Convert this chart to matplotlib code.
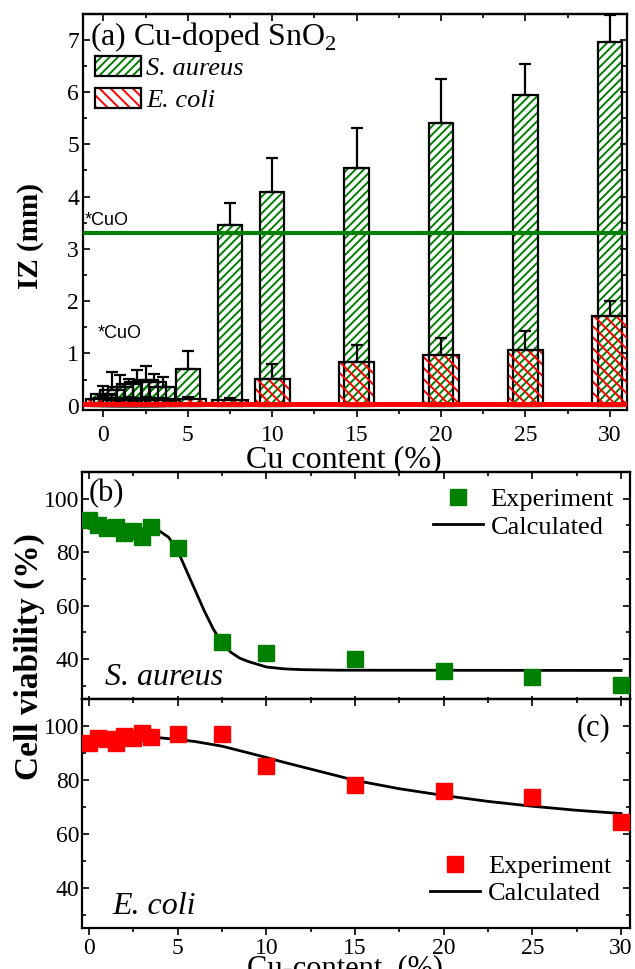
import numpy as np
import matplotlib
matplotlib.use("Agg")
import matplotlib.pyplot as plt
from matplotlib.patches import Patch
from matplotlib.legend_handler import HandlerTuple
from matplotlib.ticker import MultipleLocator

plt.rcParams["font.family"] = ["Liberation Serif", "DejaVu Serif"]
plt.rcParams["mathtext.fontset"] = "custom"
plt.rcParams["mathtext.rm"] = "Liberation Serif"
plt.rcParams["hatch.linewidth"] = 1.4
plt.rcParams["axes.linewidth"] = 1.6

GREEN = "#008000"
RED = "#ff0000"

# --- (a) inhibition zone data ---
cu_content = [0, 0.5, 1, 1.5, 2, 2.5, 3, 3.5, 5, 7.5, 10, 15, 20, 25, 30]
iz_saureus = [0.22, 0.30, 0.35, 0.42, 0.45, 0.50, 0.45, 0.35, 0.70, 3.45, 4.08, 4.54, 5.40, 5.95, 6.96]
iz_saureus_err = [0.16, 0.35, 0.23, 0.10, 0.23, 0.25, 0.15, 0.20, 0.35, 0.42, 0.65, 0.77, 0.84, 0.59, 0.51]
iz_ecoli = [0.12, 0.15, 0.10, 0.12, 0.10, 0.12, 0.10, 0.10, 0.12, 0.10, 0.52, 0.84, 0.97, 1.06, 1.71]
iz_ecoli_err = [0.06, 0.05, 0.05, 0.05, 0.05, 0.05, 0.05, 0.05, 0.05, 0.05, 0.27, 0.33, 0.33, 0.36, 0.29]
cuo_saureus = 3.30
cuo_ecoli = 0.03

# --- (b), (c) cell viability ---
viab_x = [0, 0.5, 1, 1.5, 2, 2.5, 3, 3.5, 5, 7.5, 10, 15, 20, 25, 30]
viab_saureus = [92, 90, 89, 89.5, 87, 88, 85.5, 89.5, 81.4, 46.5, 42.4, 39.9, 35.6, 33.4, 30.3]
viab_ecoli = [93.5, 95.4, 95.0, 93.8, 96.3, 95.7, 97.3, 95.8, 96.9, 96.9, 85.0, 78.0, 75.8, 73.5, 64.2]

calc_b_x = [0, 1, 2, 3, 3.5, 4, 4.5, 5, 5.5, 6, 6.5, 7, 7.5, 8, 8.5, 9, 10, 11, 12, 14, 30]
calc_b_y = [89, 89, 88.9, 88.7, 88.4, 87.8, 85.5, 80.5, 73.0, 65.5, 58.0, 51.3, 46.0, 42.5,
            40.3, 39.0, 37.0, 36.3, 36.0, 35.8, 35.7]
calc_c_x = [0, 2, 4, 5, 6, 7.5, 9, 10, 11, 12.5, 14, 15, 17.5, 20, 22.5, 25, 27.5, 30]
calc_c_y = [96, 96, 95.6, 95, 94.2, 92.5, 90, 88.3, 86.5, 84, 81.5, 79.8, 76.7, 74.2, 72,
            70.2, 68.7, 67.5]

fig = plt.figure(figsize=(6.35, 9.69), dpi=100)
ax_a = fig.add_axes([0.131, 0.577, 0.856, 0.409])
ax_b = fig.add_axes([0.129, 0.2786, 0.863, 0.2343])
ax_c = fig.add_axes([0.129, 0.0423, 0.863, 0.2363])


def style_ticks(ax, xdir):
    ax.tick_params(which="both", direction="in", right=True, width=1.2, labelsize=17)
    ax.tick_params(axis="x", which="both", direction=xdir, top=False)
    ax.tick_params(which="major", length=5)
    ax.tick_params(which="minor", length=3)
    top = ax.secondary_xaxis("top")
    top.xaxis.set_major_locator(MultipleLocator(5))
    top.xaxis.set_minor_locator(MultipleLocator(2.5))
    top.tick_params(which="both", direction="in", labeltop=False, width=1.2)
    top.tick_params(which="major", length=5)
    top.tick_params(which="minor", length=3)


# ---------------- panel (a) ----------------
w_sa, w_ec = 1.45, 2.1
ax_a.bar(cu_content, iz_saureus, width=w_sa, color="none", edgecolor=GREEN, hatch="////", lw=0, zorder=2)
ax_a.bar(cu_content, iz_saureus, width=w_sa, color="none", edgecolor="black", lw=1.6, zorder=3)
ax_a.errorbar(cu_content, iz_saureus, yerr=[np.zeros(len(cu_content)), iz_saureus_err], fmt="none",
              ecolor="black", elinewidth=1.6, capsize=4, capthick=1.6, zorder=3)
ax_a.bar(cu_content, iz_ecoli, width=w_ec, color="none", edgecolor=RED, hatch="\\\\\\", lw=0, zorder=4)
ax_a.bar(cu_content, iz_ecoli, width=w_ec, color="none", edgecolor="black", lw=1.6, zorder=5)
ax_a.errorbar(cu_content, iz_ecoli, yerr=[np.zeros(len(cu_content)), iz_ecoli_err], fmt="none",
              ecolor="black", elinewidth=1.6, capsize=4, capthick=1.6, zorder=5)
ax_a.axhline(cuo_saureus, color=GREEN, lw=3, zorder=6)
ax_a.axhline(cuo_ecoli, color=RED, lw=3.6, zorder=6)
ax_a.text(-1.1, cuo_saureus + 0.08, "*CuO", family="Liberation Sans", fontsize=13, va="bottom")
ax_a.text(-0.35, 1.22, "*CuO", family="Liberation Sans", fontsize=13, va="bottom")

ax_a.set_xlim(-1.2, 31)
ax_a.set_ylim(-0.08, 7.5)
ax_a.xaxis.set_major_locator(MultipleLocator(5))
ax_a.xaxis.set_minor_locator(MultipleLocator(2.5))
ax_a.yaxis.set_major_locator(MultipleLocator(1))
ax_a.yaxis.set_minor_locator(MultipleLocator(0.5))
style_ticks(ax_a, "out")
ax_a.tick_params(axis="x", pad=6)
ax_a.tick_params(axis="y", pad=3)
ax_a.set_ylabel("IZ (mm)", fontsize=21, fontweight="bold")
ax_a.yaxis.set_label_coords(-0.072, 0.44)
ax_a.set_xlabel("Cu content (%)", fontsize=23)
ax_a.xaxis.set_label_coords(0.48, -0.09)

ax_a.text(0.012, 0.985, r"(a) Cu-doped SnO$_\mathregular{2}$", transform=ax_a.transAxes,
          fontsize=23, va="top", ha="left")
h_sa = (Patch(facecolor="none", edgecolor=GREEN, hatch="////", lw=0),
        Patch(facecolor="none", edgecolor="black", lw=1.6))
h_ec = (Patch(facecolor="none", edgecolor=RED, hatch="\\\\\\", lw=0),
        Patch(facecolor="none", edgecolor="black", lw=1.6))
ax_a.legend([h_sa, h_ec], ["S. aureus", "E. coli"], handler_map={tuple: HandlerTuple(ndivide=1)},
            loc="upper left", bbox_to_anchor=(0.021, 0.893), frameon=False,
            prop={"style": "italic", "size": 19}, handlelength=1.75, handleheight=0.8,
            handletextpad=0.2, labelspacing=0.3, borderaxespad=0, borderpad=0)

# ---------------- panel (b) ----------------
ax_b.plot(viab_x, viab_saureus, "s", color=GREEN, ms=11, label="Experiment", zorder=3)
ax_b.plot(calc_b_x, calc_b_y, "-", color="black", lw=2, label="Calculated", zorder=2)
ax_b.set_xlim(-0.4, 30.5)
ax_b.set_ylim(25, 110)
ax_b.xaxis.set_major_locator(MultipleLocator(5))
ax_b.xaxis.set_minor_locator(MultipleLocator(2.5))
ax_b.yaxis.set_major_locator(MultipleLocator(20))
ax_b.yaxis.set_minor_locator(MultipleLocator(10))
style_ticks(ax_b, "inout")
ax_b.tick_params(axis="x", labelbottom=False)
ax_b.tick_params(axis="y", pad=2)
ax_b.text(0.012, 0.97, "(b)", transform=ax_b.transAxes, fontsize=22, va="top")
ax_b.text(0.042, 0.06, "S. aureus", transform=ax_b.transAxes, fontsize=23, style="italic")
ax_b.legend(loc="upper right", bbox_to_anchor=(1.0, 1.0), frameon=False, fontsize=19,
            handlelength=1.9, handletextpad=0.3, labelspacing=0.15, borderaxespad=0.2)

# ---------------- panel (c) ----------------
ax_c.plot(viab_x, viab_ecoli, "s", color=RED, ms=11, label="Experiment", zorder=3)
ax_c.plot(calc_c_x, calc_c_y, "-", color="black", lw=2, label="Calculated", zorder=2)
ax_c.set_xlim(-0.4, 30.5)
ax_c.set_ylim(25, 110)
ax_c.xaxis.set_major_locator(MultipleLocator(5))
ax_c.xaxis.set_minor_locator(MultipleLocator(2.5))
ax_c.yaxis.set_major_locator(MultipleLocator(20))
ax_c.yaxis.set_minor_locator(MultipleLocator(10))
style_ticks(ax_c, "out")
ax_c.tick_params(axis="x", pad=2)
ax_c.tick_params(axis="y", pad=2)
ax_c.text(0.965, 0.94, "(c)", transform=ax_c.transAxes, fontsize=22, va="top", ha="right")
ax_c.text(0.055, 0.06, "E. coli", transform=ax_c.transAxes, fontsize=23, style="italic")
ax_c.legend(loc="lower right", bbox_to_anchor=(0.995, 0.03), frameon=False, fontsize=19,
            handlelength=1.9, handletextpad=0.3, labelspacing=0.15, borderaxespad=0.2)
ax_c.set_xlabel("Cu-content  (%)", fontsize=22)
ax_c.xaxis.set_label_coords(0.48, -0.115)

fig.text(0.047, 0.322, "Cell viability (%)", rotation=90, fontsize=24, fontweight="bold",
         ha="center", va="center")

fig.savefig("out.png", dpi=100)
